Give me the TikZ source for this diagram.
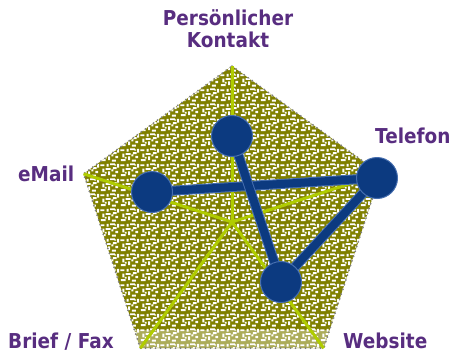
\documentclass[tikz,border=0pt]{standalone}
\usepackage{fontspec}
\newfontfamily\lblfont{DejaVu Sans}[FakeStretch=0.9]
\usetikzlibrary{patterns}

\definecolor{olivefill}{RGB}{128,128,0}
\definecolor{spokegreen}{RGB}{176,204,0}
\definecolor{ballblue}{RGB}{12,58,128}
\definecolor{rimblue}{RGB}{70,110,175}
\definecolor{labelpurple}{RGB}{88,45,128}
\definecolor{dotgray}{RGB}{128,128,128}

% white flecks that tile the pentagon
\pgfdeclarepatternformonly{speckle}{\pgfpointorigin}{\pgfpoint{20bp}{15bp}}{\pgfpoint{20bp}{15bp}}{%
  \pgfpathrectangle{\pgfpoint{1bp}{1bp}}{\pgfpoint{5bp}{2bp}}%
  \pgfpathrectangle{\pgfpoint{8.5bp}{2bp}}{\pgfpoint{2bp}{4bp}}%
  \pgfpathrectangle{\pgfpoint{12.5bp}{0.5bp}}{\pgfpoint{4bp}{2bp}}%
  \pgfpathrectangle{\pgfpoint{16bp}{4bp}}{\pgfpoint{3bp}{2.5bp}}%
  \pgfpathrectangle{\pgfpoint{2.5bp}{5bp}}{\pgfpoint{2bp}{4bp}}%
  \pgfpathrectangle{\pgfpoint{6bp}{7.5bp}}{\pgfpoint{5bp}{2bp}}%
  \pgfpathrectangle{\pgfpoint{12bp}{6bp}}{\pgfpoint{2bp}{2bp}}%
  \pgfpathrectangle{\pgfpoint{13.5bp}{8.5bp}}{\pgfpoint{4bp}{2bp}}%
  \pgfpathrectangle{\pgfpoint{18bp}{10bp}}{\pgfpoint{2bp}{4bp}}%
  \pgfpathrectangle{\pgfpoint{0.5bp}{11.5bp}}{\pgfpoint{4bp}{2bp}}%
  \pgfpathrectangle{\pgfpoint{7bp}{11bp}}{\pgfpoint{2bp}{3bp}}%
  \pgfpathrectangle{\pgfpoint{10.5bp}{12.5bp}}{\pgfpoint{5bp}{2bp}}%
  \pgfpathrectangle{\pgfpoint{5bp}{3.5bp}}{\pgfpoint{2bp}{2bp}}%
  \pgfpathrectangle{\pgfpoint{15bp}{12bp}}{\pgfpoint{2bp}{1.5bp}}%
  \pgfusepath{fill}%
}

\begin{document}
\begin{tikzpicture}[x=1bp,y=-1bp,
  spokeline/.style={draw=spokegreen, line width=3bp},
  link/.style={draw=ballblue, line width=8bp, line cap=round,
               preaction={draw=rimblue, line width=10bp, line cap=round}},
  ball/.style={circle, fill=ballblue, draw=rimblue, line width=1bp,
               minimum size=41bp, inner sep=0pt},
  lbl/.style={text=labelpurple, inner sep=0pt,
              font=\lblfont\bfseries\fontsize{20.5bp}{22bp}\selectfont}]
\useasboundingbox (0,0) rectangle (456,356);

% pentagon corners and centre
\coordinate (c)  at (232,222);
\coordinate (v1) at (232,66);
\coordinate (v2) at (380.4,173.8);
\coordinate (v3) at (323.7,348.2);
\coordinate (v4) at (140.3,348.2);
\coordinate (v5) at (83.6,173.8);

% textured pentagon
\fill[olivefill] (v1) -- (v2) -- (v3) -- (v4) -- (v5) -- cycle;
\fill[pattern=speckle, pattern color=white] (v1) -- (v2) -- (v3) -- (v4) -- (v5) -- cycle;
\begin{scope}
  \clip (v1) -- (v2) -- (v3) -- (v4) -- (v5) -- cycle;
  \fill[white, opacity=0.35] (60,330) rectangle (400,352);
\end{scope}
\draw[dotgray, line width=2bp, dash pattern=on 0bp off 5bp, line cap=round]
  (v1) -- (v2) -- (v3) -- (v4) -- (v5) -- cycle;

% spokes
\draw[spokeline] (c) -- (v1);
\draw[spokeline] (c) -- (v2);
\draw[spokeline] (c) -- (v3);
\draw[spokeline] (c) -- (v4);
\draw[spokeline] (c) -- (v5);

% rated positions
\coordinate (pk)  at (232,136);
\coordinate (em)  at (152,192);
\coordinate (tel) at (377,178);
\coordinate (web) at (281,282);

\draw[link] (em) -- (tel);
\draw[link] (pk) -- (web);
\draw[link] (tel) -- (web);

\node[ball] (pkball)  at (pk)  {};
\node[ball] (emball)  at (em)  {};
\node[ball] (telball) at (tel) {};
\node[ball] (webball) at (web) {};

% axis labels
\node[lbl, align=center, anchor=north] (lpk) at (228,9.5) {Persönlicher\\Kontakt};
\node[lbl, anchor=base west] (ltel) at (375,143) {Telefon};
\node[lbl, anchor=base west] (lem)  at (18,181) {eMail};
\node[lbl, anchor=base west] (lbf)  at (8,348) {Brief / Fax};
\node[lbl, anchor=base west] (lweb) at (343,348) {Website};
\end{tikzpicture}
\end{document}
